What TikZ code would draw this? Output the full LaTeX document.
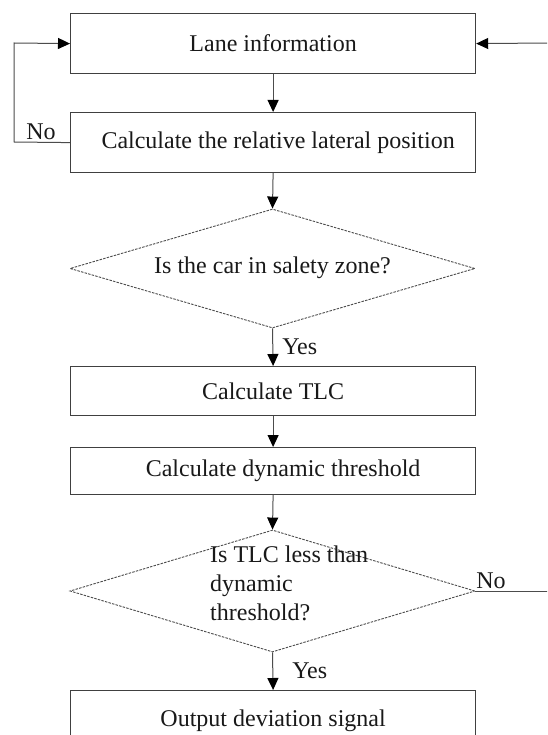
\documentclass[tikz,border=0pt]{standalone}
\usepackage{fontspec}
\setmainfont{Liberation Serif}
\usetikzlibrary{shapes.geometric,arrows.meta}
\begin{document}
\begin{tikzpicture}[x=1pt,y=-1pt,
  every node/.style={font=\fontsize{24}{29}\selectfont, text=black!90},
  procbox/.style={draw=black!75, line width=1.2pt, minimum width=405pt, inner sep=0pt, anchor=north west},
  decision/.style={draw=black!70, line width=0.9pt, dash pattern=on 2.5pt off 1.2pt, shape=diamond, minimum width=405pt, inner sep=0pt},
  flow/.style={draw=black!70, line width=1pt, -{Triangle[length=12pt,width=11pt,fill=black,color=black]}},
  plain/.style={draw=black!70, line width=1pt}
]
\useasboundingbox (0,0) rectangle (547,735);
\clip (0,0) rectangle (547,735);
\fill[white] (0,0) rectangle (547,735);

\node[procbox, minimum height=60pt] (lane) at (70,13) {Lane information};
\node[procbox, minimum height=60pt] (pos) at (70,112) {\hspace{10pt}Calculate the relative lateral position};
\node[decision, minimum height=119pt] (safe) at (272.5,268.5) {};
\node (safetext) at (272.5,268) {Is the car in salety zone?};
\node[procbox, minimum height=49pt] (tlc) at (70,366) {Calculate TLC};
\node[procbox, minimum height=47pt] (dyn) at (70,447) {\hspace{20pt}Calculate dynamic threshold};
\node[decision, minimum height=122pt] (less) at (272.5,591) {};
\node[anchor=north west, align=left, inner sep=0pt] (lesstext) at (210,546) {Is TLC less than\\dynamic\\threshold?};
\node[procbox, minimum height=60pt] (out) at (70,690) {Output deviation signal};

\coordinate (rin) at (548,43);
\coordinate (rout) at (548,591);
\coordinate (lc1) at (14,142);
\coordinate (lc2) at (14,43);

\draw[flow] (lane.south) -- (pos.north);
\draw[flow] (pos.south) -- (safe.north);
\draw[flow] (safe.south) -- node[right, pos=0.5, inner sep=9pt] (yes1) {Yes} (tlc.north);
\draw[flow] (tlc.south) -- (dyn.north);
\draw[flow] (dyn.south) -- (less.north);
\draw[flow] (less.south) -- node[right, pos=0.5, inner sep=19pt] (yes2) {Yes} (out.north);
\draw[flow] (pos.west) -- (lc1) -- (lc2) -- (lane.west);
\node[anchor=south, inner sep=2pt] (no1) at (41,142) {No};
\draw[flow] (rin) -- (lane.east);
\draw[plain] (less.east) -- (rout);
\node[anchor=south, inner sep=2pt] (no2) at (491,591) {No};
\end{tikzpicture}
\end{document}
